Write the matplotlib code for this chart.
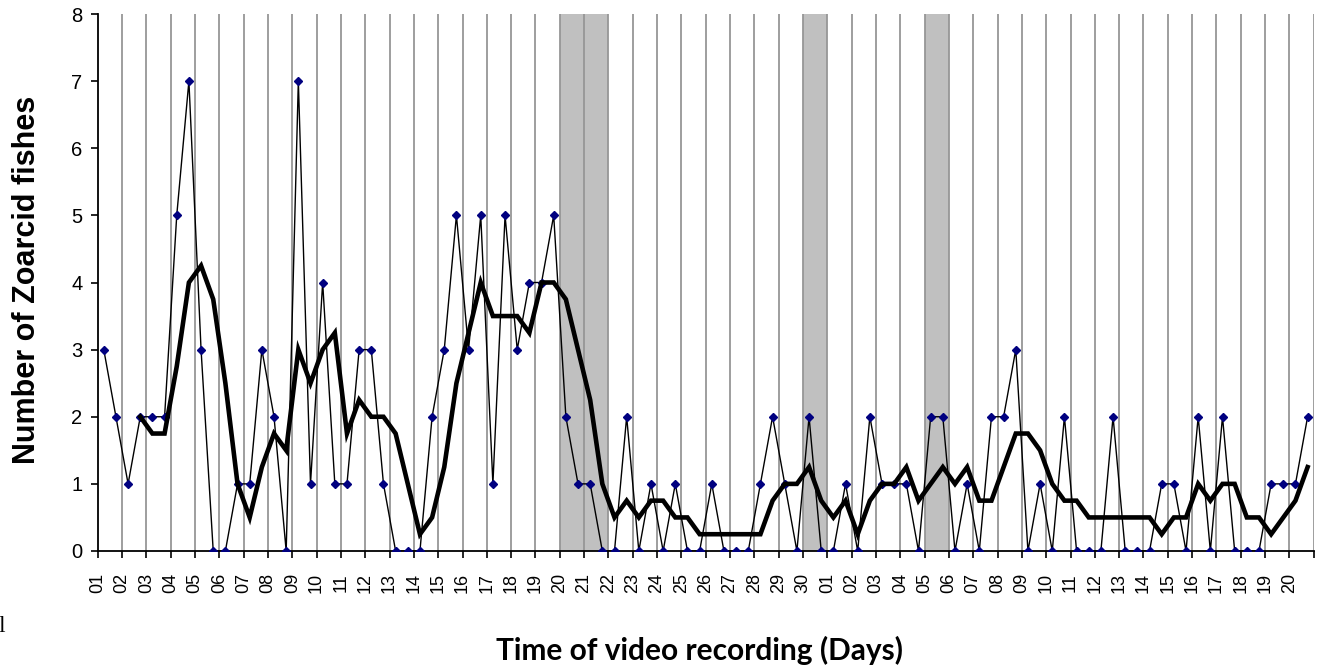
import matplotlib
matplotlib.use("Agg")
from matplotlib import pyplot as plt

# fish counts, two observations per day
counts = [3, 2, 1, 2, 2, 2, 5, 7, 3, 0, 0, 1, 1, 3, 2, 0, 7, 1, 4, 1, 1, 3, 3, 1, 0,
          0, 0, 2, 3, 5, 3, 5, 1, 5, 3, 4, 4, 5, 2, 1, 1, 0, 0, 2, 0, 1, 0, 1, 0, 0,
          1, 0, 0, 0, 1, 2, 1, 0, 2, 0, 0, 1, 0, 2, 1, 1, 1, 0, 2, 2, 0, 1, 0, 2, 2,
          3, 0, 1, 0, 2, 0, 0, 0, 2, 0, 0, 0, 1, 1, 0, 2, 0, 2, 0, 0, 0, 1, 1, 1, 2]

# 4-period moving average (starts at the 4th observation)
moving_avg = [2, 1.75, 1.75, 2.75, 4, 4.25, 3.75, 2.5, 1, 0.5, 1.25, 1.75, 1.5, 3, 2.5,
              3, 3.25, 1.75, 2.25, 2, 2, 1.75,
              1, 0.25, 0.5, 1.25, 2.5, 3.25, 4, 3.5, 3.5, 3.5, 3.25, 4, 4, 3.75, 3,
              2.25, 1, 0.5, 0.75, 0.5, 0.75, 0.75, 0.5, 0.5, 0.25,
              0.25, 0.25, 0.25, 0.25, 0.25, 0.75, 1, 1, 1.25, 0.75, 0.5, 0.75, 0.25,
              0.75, 1, 1, 1.25, 0.75, 1, 1.25, 1, 1.25, 0.75, 0.75, 1.25,
              1.75, 1.75, 1.5, 1, 0.75, 0.75, 0.5, 0.5, 0.5, 0.5, 0.5, 0.5, 0.25,
              0.5, 0.5, 1, 0.75, 1, 1, 0.5, 0.5, 0.25, 0.5, 0.75, 1.25]

day_labels = ["%02d" % d for d in range(1, 31)] + ["%02d" % d for d in range(1, 21)]

# shaded periods, as (first day index, last day index) on the day axis
shaded_days = [(19, 20), (29, 29), (34, 34)]

n = len(counts)
x = [i + 0.5 for i in range(n)]
x_ma = x[n - len(moving_avg):]

fig = plt.figure(figsize=(13.25, 6.72), dpi=100)
ax = fig.add_axes([97.7 / 1325, 121 / 672, 1216 / 1325, 537 / 672])

for start, end in shaded_days:
    ax.axvspan(start * 2, (end + 1) * 2, color="#c0c0c0", lw=0, zorder=0)

for k in range(1, len(day_labels) + 1):
    ax.axvline(k * 2, color="#969696", lw=1.3, zorder=1)

ax.plot(x, counts, color="black", lw=1.0, marker="D", ms=3.6,
        mfc="#000080", mec="#000080", zorder=3)
ax.plot(x_ma, moving_avg, color="black", lw=3.3, solid_joinstyle="miter", zorder=4)

ax.set_xlim(0, n)
ax.set_ylim(0, 8)
ax.set_xticks(range(0, n + 1, 2))
ax.set_xticklabels(day_labels + [""], rotation=90, fontsize=13,
                   family="Liberation Sans")
ax.set_yticks(range(0, 9))
ax.set_yticklabels([str(v) for v in range(0, 9)], fontsize=14.5,
                   family="Liberation Sans")
ax.tick_params(axis="both", direction="out", length=5, width=1.2, colors="black")
ax.tick_params(axis="x", pad=11)
ax.tick_params(axis="y", pad=6)

for side in ["top", "right"]:
    ax.spines[side].set_visible(False)
for side in ["left", "bottom"]:
    ax.spines[side].set_linewidth(1.3)

fig.text(27 / 1325, 1 - 280 / 672, "Number of Zoarcid fishes", rotation=90,
         ha="center", va="center", fontsize=22, fontweight="bold",
         family="Liberation Sans")
fig.text(699 / 1325, 1 - 650 / 672, "Time of video recording (Days)",
         ha="center", va="center", fontsize=21.5, fontweight="bold", family="Lato")
fig.text(2 / 1325, 1 - 627 / 672, "l", ha="center", va="center", fontsize=17,
         family="Liberation Serif")

fig.savefig("out.png", dpi=100)
